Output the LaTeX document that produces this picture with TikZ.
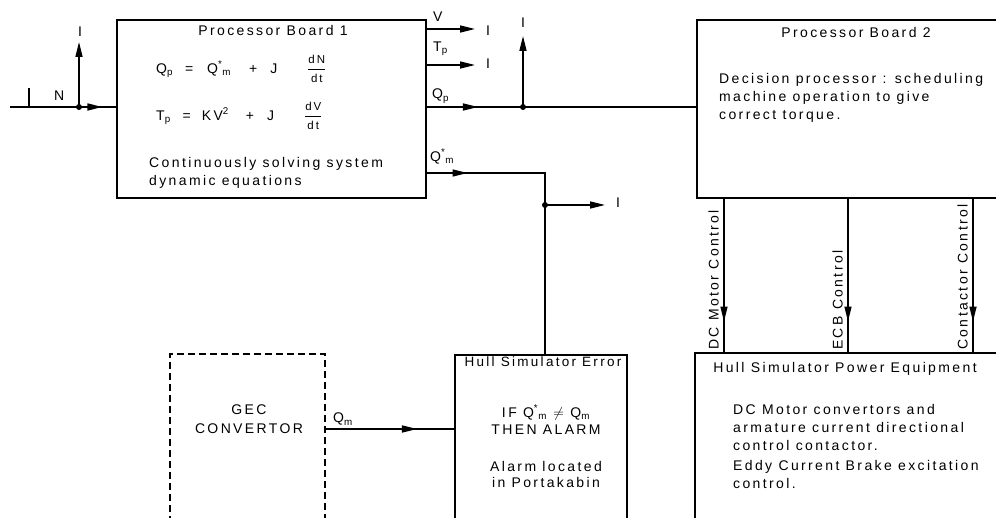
\documentclass[tikz,border=0pt]{standalone}
\usepackage{amsmath}
\usepackage{fontspec}
\setmainfont{Liberation Sans}[LetterSpace=17]
\usetikzlibrary{arrows.meta,positioning,decorations.markings}
\newcommand{\fr}[2]{$\dfrac{\text{\fontsize{11.5}{12}\selectfont #1}}{\text{\fontsize{11.5}{12}\selectfont #2}}$}
\tikzset{
  blk/.style={draw,line width=1.6pt,inner sep=0pt},
  blkd/.style={blk,dash pattern=on 7pt off 4pt},
  txt/.style={inner sep=0pt,align=center},
  wire/.style={line width=1.6pt},
  flow/.style={wire,-{Triangle[length=15pt,width=7pt]}},
  midflow/.style={wire,postaction={decorate,decoration={markings,
      mark=at position #1 with {\arrow{Triangle[length=15pt,width=7pt]}}}}},
  jdot/.style={circle,fill,inner sep=0pt,minimum size=6pt},
  brk/.style={inner sep=0pt,anchor=north},
}

\begin{document}
\begin{tikzpicture}[x=1pt,y=-1pt,font=\fontsize{14}{18}\selectfont]
  \clip (0,0) rectangle (996,518);

  % blocks
  \node[blk,minimum width=309pt,minimum height=178pt] (pb1) at (271.5,109) {};
  \node[blk,minimum width=318pt,minimum height=178pt] (pb2) at (856,109) {};
  \node[blkd,minimum width=155pt,minimum height=210pt] (gec) at (247.5,459) {};
  \node[blk,minimum width=172pt,minimum height=210pt] (hse) at (541,460) {};
  \node[blk,minimum width=320pt,minimum height=210pt] (hpe) at (855,458) {};

  % texts in the blocks
  \node[txt,anchor=north] (pb1t) at (273,25) {Processor Board 1};
  \node[txt,anchor=west] (pb1e) at (156,69)
        {Q\textsubscript{p}\hspace{12pt}=\hspace{14pt}Q\textsuperscript{*}\textsubscript{m}\hspace{18pt}+\hspace{13pt}J\hspace{30pt}\fr{dN}{dt}};
  \node[txt,anchor=west] (pb1f) at (156,116)
        {T\textsubscript{p}\hspace{12pt}=\hspace{11pt}KV\textsuperscript{2}\hspace{17pt}+\hspace{13pt}J\hspace{30pt}\fr{dV}{dt}};
  \node[txt,anchor=north west,align=left] (pb1d) at (149,157)
        {Continuously solving system\\dynamic equations};
  \node[txt,anchor=north] (pb2t) at (856,27) {Processor Board 2};
  \node[txt,anchor=north west,align=left] (pb2d) at (719,73)
        {Decision processor : scheduling\\machine operation to give\\correct torque.};
  \node[txt,anchor=north] (gect) at (249,405) {GEC\\[1pt]CONVERTOR};
  \node[txt,anchor=north,font=\fontsize{13.5}{18}\selectfont] (hset) at (543,357) {Hull Simulator Error};
  \node[txt,anchor=north] (hsec) at (546,405)
        {IF Q\textsuperscript{*}\textsubscript{m} $\neq$ Q\textsubscript{m}\\[-1pt]THEN ALARM};
  \node[txt,anchor=north] (hsel) at (546,461) {Alarm located\\[-2pt]in Portakabin};
  \node[txt,anchor=north] (hpet) at (845,362) {Hull Simulator Power Equipment};
  \node[txt,anchor=north west,align=left] (hped) at (733,404)
        {DC Motor convertors and\\armature current directional\\control contactor.\\[2pt]
         Eddy Current Brake excitation\\control.};

  % input N
  \coordinate (nin) at (10,107);
  \coordinate (nup) at (79,42);
  \draw[midflow=0.87] (nin) -- (nin -| pb1.west);
  \node[jdot] (nj) at (79,107) {};
  \draw[flow] (nj.center) -- (nup);
  \draw[line width=2.5pt] (29,107) -- (29,88);
  \node[txt,anchor=north west] (nl) at (54,91) {N};
  \node[brk] (nb) at (80,27) {I};

  % outputs of board 1
  \coordinate (vend) at (475,29);
  \coordinate (tend) at (475,65);
  \draw[flow] (vend -| pb1.east) -- (vend);
  \draw[flow] (tend -| pb1.east) -- (tend);
  \node[txt,anchor=north west] (vl) at (433,12) {V};
  \node[txt,anchor=north west] (tl) at (433,42) {T\textsubscript{p}};
  \node[brk] (vb) at (488,26) {I};
  \node[brk] (tb) at (488,59) {I};

  \coordinate (qpy) at (0,107);
  \coordinate (qpup) at (523,36);
  \draw[midflow=0.19] (qpy -| pb1.east) -- (qpy -| pb2.west);
  \node[jdot] (qpj) at (523,107) {};
  \draw[flow] (qpj.center) -- (qpup);
  \node[txt,anchor=north west] (qpl) at (432,89) {Q\textsubscript{p}};
  \node[brk] (qpb) at (523,18) {I};

  \coordinate (qmc) at (545,173);
  \coordinate (qmr) at (605,205);
  \draw[midflow=0.136] (qmc -| pb1.east) -- (qmc) -- (qmc |- hse.north);
  \node[jdot] (qmj) at (545,205) {};
  \draw[flow] (qmj.center) -- (qmr);
  \node[txt,anchor=north west] (qml) at (430,149) {Q\textsuperscript{*}\textsubscript{m}};
  \node[brk] (qmb) at (618,198) {I};

  % GEC convertor to error block
  \coordinate (gy) at (0,429);
  \draw[midflow=0.71] (gy -| gec.east) -- (gy -| hse.west);
  \node[txt,anchor=north west] (gl) at (333,413) {Q\textsubscript{m}};

  % control lines
  \foreach \cx/\cl [count=\i] in {724/DC Motor Control,848/ECB Control,973/Contactor Control} {
    \coordinate (ct\i) at (pb2.south -| \cx,0);
    \draw[midflow=0.8] (ct\i) -- (ct\i |- hpe.north);
    \node[txt,rotate=90,anchor=south west] (cl\i) at (\cx-5,350) {\cl};
  }

\end{tikzpicture}
\end{document}
